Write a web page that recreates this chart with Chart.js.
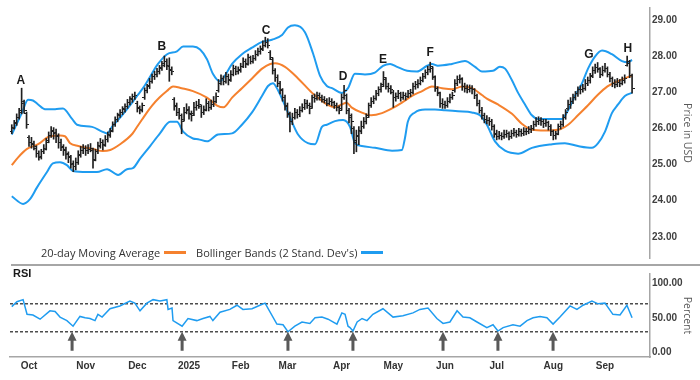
<!DOCTYPE html>
<html><head><meta charset="utf-8">
<script src="https://cdn.jsdelivr.net/npm/chart.js@4.4.1/dist/chart.umd.min.js"></script>
<style>
html,body{margin:0;padding:0;background:#fff;}
#wrap{position:relative;width:700px;height:380px;overflow:hidden;}
#cTop{position:absolute;left:0;top:0;}
#cBot{position:absolute;left:0;top:266px;}
#sep{position:absolute;left:11px;top:264px;width:689px;height:2px;background:#a6a6a6;}
#legend{position:absolute;left:41px;top:244px;height:16px;display:flex;align-items:center;font:11px 'Open Sans',sans-serif;color:#333;white-space:nowrap;}
#legend .ln{display:inline-block;width:22px;height:3px;margin:0 10px 0 4px;}
#rsi{position:absolute;left:13px;top:267px;font:bold 11px 'Liberation Sans',Arial,sans-serif;color:#1a1a1a;}
</style></head>
<body>
<div id="wrap">
<canvas id="cTop" width="700" height="266"></canvas>
<canvas id="cBot" width="700" height="114"></canvas>
<div id="sep"></div>
<div id="legend"></div>
<div id="rsi">RSI</div>
</div>
<script>
// ---- price bars (trading-day index = array position) ----
const open = [25.90,26.02,26.12,26.30,26.48,26.70,26.40,25.75,25.62,25.58,
25.45,25.30,25.20,25.35,25.45,25.65,25.80,25.95,25.85,25.78,
25.60,25.48,25.42,25.28,25.20,25.00,24.95,25.05,25.28,25.38,
25.45,25.38,25.42,25.40,25.15,25.35,25.52,25.62,25.55,25.70,
25.82,25.95,26.10,26.25,26.38,26.45,26.55,26.60,26.72,26.82,
26.88,26.70,26.55,26.52,26.85,27.05,27.18,27.30,27.42,27.50,
27.58,27.68,27.78,27.85,27.75,27.60,26.80,26.62,26.45,26.35,
26.25,26.45,26.50,26.40,26.40,26.58,26.62,26.60,26.45,26.52,
26.68,26.58,26.66,26.75,27.05,27.25,27.38,27.30,27.42,27.35,
27.50,27.65,27.58,27.62,27.72,27.85,27.80,27.95,27.85,27.92,
28.05,28.12,28.20,28.30,28.38,28.10,27.90,27.60,27.40,27.25,
27.05,26.85,26.60,26.38,26.20,26.30,26.45,26.38,26.50,26.58,
26.70,26.62,26.60,26.85,26.82,26.90,26.85,26.80,26.78,26.70,
26.75,26.72,26.62,26.58,26.55,26.85,26.90,26.50,26.30,26.00,
25.60,25.80,25.95,26.05,26.20,26.35,26.63,26.75,26.82,26.95,
27.06,27.20,27.35,27.16,27.10,27.00,26.85,26.88,26.95,26.85,
26.90,26.88,26.96,27.00,27.16,27.20,27.25,27.32,27.43,27.54,
27.62,27.65,27.40,27.10,26.95,26.70,26.65,26.63,26.75,26.85,
27.05,27.25,27.35,27.35,27.16,27.11,27.06,27.10,27.06,26.90,
26.70,26.50,26.35,26.25,26.22,26.20,26.04,25.85,25.78,25.80,
25.78,25.83,25.85,25.78,25.85,25.88,25.83,25.90,25.85,25.92,
25.90,25.96,26.00,26.10,26.18,26.22,26.20,26.12,26.15,26.04,
25.90,25.80,25.85,26.04,26.10,26.30,26.55,26.65,26.75,26.85,
26.95,27.06,27.08,27.11,27.25,27.32,27.45,27.60,27.68,27.62,
27.50,27.60,27.65,27.50,27.38,27.25,27.22,27.28,27.25,27.32,
27.75,27.80,27.45];
const high = [26.10,26.22,26.40,26.55,27.11,26.78,26.45,25.80,25.75,25.65,
25.52,25.38,25.42,25.55,25.72,25.90,26.05,26.02,25.98,25.85,
25.70,25.55,25.48,25.35,25.25,25.10,25.18,25.38,25.50,25.55,
25.52,25.55,25.58,25.45,25.42,25.62,25.72,25.68,25.80,25.90,
26.00,26.18,26.32,26.42,26.52,26.60,26.68,26.80,26.88,26.95,
27.00,26.75,26.62,26.70,27.12,27.22,27.38,27.50,27.58,27.66,
27.74,27.85,28.00,27.92,27.95,27.70,26.85,26.70,26.55,26.40,
26.58,26.68,26.60,26.48,26.72,26.75,26.80,26.65,26.62,26.82,
26.75,26.78,26.88,26.98,27.35,27.48,27.45,27.55,27.50,27.60,
27.75,27.72,27.70,27.80,27.95,27.92,28.05,28.00,28.02,28.15,
28.22,28.28,28.42,28.52,28.48,28.15,27.95,27.65,27.48,27.30,
27.10,26.92,26.70,26.45,26.42,26.55,26.52,26.60,26.68,26.80,
26.78,26.70,26.92,26.95,27.00,26.98,26.92,26.88,26.82,26.85,
26.82,26.75,26.70,26.62,26.95,27.19,26.95,26.55,26.40,26.05,
25.95,26.05,26.20,26.30,26.40,26.70,26.85,26.90,27.05,27.15,
27.25,27.57,27.40,27.25,27.18,27.05,26.98,27.05,27.00,27.00,
26.98,27.05,27.08,27.25,27.30,27.35,27.42,27.52,27.62,27.72,
27.83,27.70,27.45,27.15,27.00,26.82,26.75,26.85,26.95,27.00,
27.35,27.45,27.48,27.40,27.25,27.20,27.20,27.18,27.10,26.95,
26.78,26.58,26.42,26.35,26.30,26.25,26.10,25.95,25.92,25.88,
25.95,25.95,25.90,25.95,26.00,25.95,26.00,25.98,26.02,26.00,
26.05,26.08,26.20,26.30,26.32,26.30,26.25,26.25,26.20,26.10,
25.95,25.92,26.12,26.20,26.38,26.52,26.78,26.85,26.95,27.02,
27.15,27.18,27.22,27.35,27.42,27.52,27.70,27.78,27.82,27.68,
27.72,27.80,27.70,27.55,27.42,27.35,27.38,27.35,27.42,27.48,
28.00,27.88,27.50];
const low = [25.85,25.98,26.08,26.25,26.40,26.42,26.00,25.50,25.45,25.40,
25.20,25.12,25.15,25.30,25.40,25.60,25.75,25.70,25.60,25.45,
25.38,25.25,25.15,25.05,24.90,24.80,24.85,25.00,25.20,25.30,
25.25,25.30,25.35,24.90,25.10,25.30,25.45,25.40,25.50,25.62,
25.75,25.90,26.05,26.18,26.30,26.38,26.45,26.55,26.65,26.72,
26.80,26.45,26.40,26.45,26.80,26.98,27.10,27.25,27.35,27.42,
27.50,27.60,27.70,27.62,27.30,27.48,26.50,26.35,26.25,25.85,
26.20,26.40,26.25,26.20,26.35,26.50,26.55,26.30,26.38,26.48,
26.48,26.52,26.60,26.70,27.00,27.20,27.20,27.25,27.20,27.30,
27.45,27.48,27.50,27.55,27.68,27.68,27.75,27.78,27.80,27.88,
28.00,28.05,28.15,28.25,28.22,27.90,27.50,27.30,27.15,26.95,
26.75,26.50,26.30,25.90,26.10,26.25,26.28,26.32,26.45,26.52,
26.55,26.40,26.55,26.72,26.78,26.78,26.72,26.70,26.62,26.65,
26.62,26.55,26.48,26.40,26.50,26.80,26.40,26.15,25.85,25.30,
25.35,25.55,25.85,26.00,26.12,26.30,26.58,26.68,26.78,26.90,
27.00,27.15,27.08,27.00,26.95,26.58,26.75,26.82,26.75,26.80,
26.78,26.85,26.88,26.95,27.08,27.12,27.20,27.28,27.38,27.48,
27.55,27.35,27.02,26.90,26.58,26.55,26.55,26.58,26.70,26.80,
27.00,27.18,27.25,27.05,27.00,26.98,27.00,26.95,26.82,26.62,
26.42,26.25,26.15,26.12,26.08,25.95,25.75,25.68,25.70,25.68,
25.72,25.75,25.68,25.72,25.78,25.75,25.78,25.78,25.80,25.82,
25.85,25.88,25.95,26.05,26.10,26.08,26.02,26.05,25.95,25.80,
25.68,25.70,25.82,25.98,26.05,26.25,26.50,26.55,26.68,26.78,
26.88,26.95,27.00,27.05,27.18,27.25,27.40,27.52,27.55,27.40,
27.45,27.55,27.42,27.28,27.15,27.12,27.15,27.15,27.20,27.25,
27.72,27.40,26.97];
const close = [26.00,26.15,26.30,26.45,26.75,26.50,26.10,25.60,25.55,25.50,
25.30,25.22,25.35,25.42,25.62,25.80,25.92,25.88,25.80,25.62,
25.50,25.40,25.30,25.22,25.02,24.95,25.05,25.25,25.40,25.45,
25.38,25.42,25.45,25.10,25.35,25.50,25.60,25.52,25.70,25.80,
25.92,26.10,26.25,26.35,26.45,26.52,26.60,26.72,26.80,26.88,
26.92,26.58,26.50,26.62,27.05,27.15,27.30,27.42,27.50,27.58,
27.65,27.75,27.85,27.72,27.62,27.58,26.60,26.45,26.35,26.20,
26.45,26.52,26.38,26.35,26.58,26.62,26.65,26.45,26.50,26.70,
26.58,26.66,26.75,26.88,27.25,27.38,27.30,27.43,27.32,27.50,
27.65,27.58,27.60,27.70,27.86,27.77,27.96,27.85,27.92,28.05,
28.12,28.18,28.30,28.38,28.30,27.96,27.60,27.40,27.25,27.06,
26.85,26.63,26.40,26.20,26.30,26.45,26.38,26.50,26.58,26.70,
26.63,26.55,26.85,26.82,26.90,26.85,26.80,26.78,26.70,26.75,
26.72,26.63,26.58,26.50,26.85,27.05,26.50,26.35,26.20,25.65,
25.78,25.90,26.05,26.20,26.30,26.63,26.75,26.82,26.95,27.06,
27.16,27.40,27.16,27.10,27.06,26.85,26.88,26.95,26.85,26.90,
26.88,26.96,26.98,27.16,27.20,27.25,27.32,27.43,27.54,27.62,
27.70,27.43,27.11,26.98,26.70,26.65,26.63,26.75,26.85,26.90,
27.25,27.35,27.38,27.16,27.11,27.06,27.10,27.06,26.90,26.70,
26.50,26.35,26.25,26.22,26.20,26.04,25.83,25.78,25.80,25.78,
25.83,25.85,25.78,25.85,25.88,25.83,25.90,25.85,25.92,25.90,
25.96,25.99,26.10,26.18,26.22,26.20,26.12,26.15,26.04,25.90,
25.80,25.83,26.04,26.10,26.30,26.45,26.65,26.75,26.85,26.95,
27.06,27.08,27.11,27.25,27.32,27.43,27.60,27.68,27.65,27.50,
27.60,27.65,27.50,27.38,27.25,27.22,27.28,27.25,27.32,27.38,
27.85,27.45,27.10];

// ---- 20-day moving average (day index, value) ----
const maIdx = [0,2.5,6.2,10.7,15.5,19.6,21.6,23.7,27,33,37,40,44,49,51,53,55,57,60,63,65.5,69,73.6,79.3,83.4,86,89.5,93.5,97.6,101.7,105,107,111,116.3,122,126,128,131.3,134,136,138,142,146,150.4,154.5,158.5,162.6,166.7,170.7,174.8,178.8,183,187,191,193,197.5,203.2,207.3,211.3,216.6,221.9,226,230,234,238,242,246,252];
const maVal = [24.98,25.19,25.43,25.56,25.78,25.80,25.78,25.59,25.51,25.43,25.37,25.40,25.56,25.85,26.05,26.25,26.45,26.63,26.85,27.03,27.16,27.11,27.03,26.85,26.63,26.58,26.85,27.11,27.38,27.65,27.78,27.80,27.70,27.38,26.98,26.76,26.66,26.58,26.66,26.71,26.58,26.44,26.36,26.42,26.55,26.71,26.90,27.03,27.16,27.11,27.08,27.16,27.11,26.92,26.82,26.66,26.40,26.12,25.96,25.94,25.96,26.10,26.36,26.63,26.92,27.16,27.30,27.46];

// ---- Bollinger bands ----
const upIdx = [0,4.2,6.6,8.6,10.7,13.5,17.6,20.8,24.5,26.5,32.6,36.7,38.7,40.7,44.8,48.9,51.3,54.1,56.9,59.4,63.1,67.1,69.6,73.6,76.5,79.3,81.7,84.6,86.6,89.5,93.5,97.6,101.7,105.7,109.8,112.2,115,119.1,122.4,125.2,128,130.1,134.1,136.6,139.4,143.5,147.5,150.8,153.7,156.5,160.6,164.6,168.7,170.7,173.1,178.8,184.1,188.2,191,195.5,198.3,200.4,203.2,205.7,208.5,211.3,213.8,219.5,223.5,226,228.8,231.7,234.1,237,239.8,243.8,247.9,250.3,252];
const upVal = [25.83,26.44,26.79,26.77,26.66,26.53,26.53,26.55,26.26,26.10,26.04,25.91,25.86,26.04,26.36,26.71,26.93,27.19,27.51,27.78,28.05,28.13,28.26,28.26,28.18,27.91,27.51,27.30,27.46,27.78,28.05,28.23,28.39,28.45,28.58,28.79,28.85,28.66,28.07,27.46,27.17,27.11,26.98,27.11,27.51,27.49,27.54,27.73,27.78,27.70,27.59,27.57,27.73,27.78,27.73,27.78,27.86,27.70,27.57,27.59,27.70,27.65,27.33,26.98,26.66,26.36,26.26,26.26,26.26,26.50,26.90,27.25,27.65,27.99,28.15,28.05,27.86,27.83,27.89];
const loIdx = [0,4.6,7.4,10.2,14.3,16.7,19.6,22.4,24.9,30.6,34.6,38.7,43.2,46.8,49.2,52.1,56.2,60.2,64.3,67.1,69.6,73.6,75.7,79.3,83.8,89.5,93.5,97.6,101.7,104.1,106.1,108.1,111,113.8,116.3,120.3,123.2,126,128,131.3,134.6,137.4,139.4,142.2,147.6,154.5,158.5,159.7,160.9,163.8,167.9,171.9,176,181.3,186.9,190.2,193,196.3,200.4,205.7,211.3,219.5,224.7,230,235.7,238.2,241,243.8,246.3,249.2,252];
const loVal = [24.12,23.91,24.04,24.36,24.79,25.03,25.06,24.98,24.82,24.79,24.79,24.87,24.71,24.87,24.90,25.16,25.51,25.86,26.18,26.18,25.91,25.72,25.70,25.64,25.83,25.86,26.10,26.44,26.90,27.17,27.25,27.06,26.63,26.18,25.83,25.59,25.56,26.04,26.10,26.20,26.23,26.04,25.59,25.51,25.46,25.38,25.40,25.72,26.18,26.44,26.52,26.52,26.50,26.47,26.44,26.36,26.10,25.64,25.38,25.30,25.46,25.56,25.59,25.51,25.46,25.59,25.91,26.42,26.66,26.90,26.98];

// ---- RSI ----
const rsiIdx = [0,2.1,4.6,6.2,8.6,11.5,15.5,17.6,19.6,22.4,24.9,27.7,29.8,31.8,33.8,35,36.7,39.9,43.9,48,50,52.1,54.9,57.4,60.2,63,63.5,65.1,65.5,69.2,71.6,75.2,77.7,80.5,81.7,84.6,88.6,91.5,93.9,97.6,100.8,102.9,107.7,110.2,112.2,115,117.9,121.1,123.2,126,128.5,132.1,134.1,135.4,136.6,137.4,138.6,140.3,142.3,144.3,146.7,150.8,154.9,158.9,163,165.8,169.1,172.7,175.2,178,180.9,183.3,186.1,189,193,195.5,197.5,199.6,203.6,206.5,209.3,211.8,214.6,217.4,219.9,222.7,226.8,229.6,232.1,235.7,238.2,241,244.2,247.1,249.9,252];
const rsiVal = [66,73,76,55,54,48,60,59,51,46,38,52,50,49,46,55,51,63,67,74,71,60,71,76,74,76,62,64,46,38,49,46,49,52,46,58,62,68,62,63,68,71,41,40,30,38,44,42,50,51,48,41,57,55,38,36,31,44,49,46,55,63,51,53,57,62,64,49,42,44,60,51,50,44,36,40,31,36,40,38,46,50,52,50,41,51,67,62,68,74,70,71,55,54,68,50];
const rsiLevels = [70, 30];
const arrowIdx = [24.5, 69.2, 112.2, 138.6, 175.2, 197.5, 219.9];

// ---- annotations & axes ----
const markLabels = ['A','B','C','D','E','F','G','H'];
const markIdx = [3.7, 61, 103.3, 134.6, 150.8, 170, 234.5, 250.3];
const markPrice = [27.32, 28.26, 28.71, 27.43, 27.91, 28.10, 28.05, 28.21];
const monthIdx = [7,30,51,72,93,112,134,155,176,197,220,241];
const monthLabels = ['Oct','Nov','Dec','2025','Feb','Mar','Apr','May','Jun','Jul','Aug','Sep'];
const priceTicks = [23,24,25,26,27,28,29];
const rsiTicks = [0,50,100];

const ORANGE = '#f5812e', BLUE = '#1f9cf0', BAR = '#1f1f1f', AXIS = '#a6a6a6';
const X_MIN = -0.72, X_MAX = 259.28;
const tickFont = {family:"'Liberation Sans', Arial, sans-serif", weight:'bold', size:10};
const titleFont = {family:"'Open Sans', sans-serif", size:10.5};

function tickImg(side){
  const c = document.createElement('canvas'); c.width = 5; c.height = 1;
  const g = c.getContext('2d'); g.fillStyle = BAR; g.fillRect(side < 0 ? 0 : 3, 0, 2, 1);
  return c;
}
const pts = (ix, vals) => ix.map((x,i)=>({x, y: vals[i]}));

const markerPlugin = {
  id:'markers',
  afterDatasetsDraw(chart){
    const {ctx, scales:{x, y}} = chart;
    ctx.save();
    ctx.font = "bold 12px 'Liberation Sans', Arial, sans-serif";
    ctx.fillStyle = '#1a1a1a'; ctx.textAlign = 'center'; ctx.textBaseline = 'middle';
    markLabels.forEach((t,i)=>ctx.fillText(t, x.getPixelForValue(markIdx[i]), y.getPixelForValue(markPrice[i])));
    ctx.restore();
  }
};

new Chart(document.getElementById('cTop'), {
  type:'bar',
  data:{datasets:[
    {type:'line', label:'20-day Moving Average', data:pts(maIdx, maVal), borderColor:ORANGE, borderWidth:2, pointRadius:0, cubicInterpolationMode:'monotone', order:3},
    {type:'line', label:'Bollinger Bands (2 Stand. Dev\'s)', data:pts(upIdx, upVal), borderColor:BLUE, borderWidth:2, pointRadius:0, cubicInterpolationMode:'monotone', order:3},
    {type:'line', label:'lower', data:pts(loIdx, loVal), borderColor:BLUE, borderWidth:2, pointRadius:0, cubicInterpolationMode:'monotone', order:3},
    {type:'bar', label:'range', data:high.map((h,i)=>({x:i, y:[low[i], h]})), backgroundColor:BAR, barThickness:1, grouped:false, order:1},
    {type:'scatter', label:'open', data:open.map((o,i)=>({x:i, y:o})), pointStyle:tickImg(-1), order:0},
    {type:'scatter', label:'close', data:close.map((c,i)=>({x:i, y:c})), pointStyle:tickImg(1), order:0}
  ]},
  options:{
    responsive:false, devicePixelRatio:1, animation:false, events:[],
    layout:{padding:{left:10, top:7, right:0, bottom:0}},
    plugins:{legend:{display:false}, tooltip:{enabled:false}},
    scales:{
      x:{type:'linear', display:false, min:X_MIN, max:X_MAX, offset:false, grid:{offset:false}},
      y:{position:'right', min:22.413, max:29.328,
        afterBuildTicks:s=>{s.ticks = priceTicks.map(v=>({value:v}));},
        afterFit:s=>{s.width = 50;},
        grid:{display:false, drawTicks:false},
        border:{display:true, color:AXIS, width:1.5},
        ticks:{padding:2, font:tickFont, color:'#404040', callback:v=>Number(v).toFixed(2)},
        title:{display:true, text:'Price in USD', font:titleFont, color:'#595959', padding:{top:7, bottom:0}}
      }
    }
  },
  plugins:[markerPlugin]
});

const rsiPlugin = {
  id:'rsiExtras',
  beforeDatasetsDraw(chart){
    const {ctx, chartArea:a, scales:{y}} = chart;
    ctx.save(); ctx.strokeStyle = '#4d4d4d'; ctx.lineWidth = 1.5; ctx.setLineDash([3,2]);
    rsiLevels.forEach(v=>{ const py = y.getPixelForValue(v); ctx.beginPath(); ctx.moveTo(a.left, py); ctx.lineTo(a.right, py); ctx.stroke(); });
    ctx.restore();
  },
  afterDatasetsDraw(chart){
    const {ctx, scales:{x, y}} = chart;
    ctx.save(); ctx.fillStyle = '#595959';
    arrowIdx.forEach(k=>{
      const px = x.getPixelForValue(k), tip = y.getPixelForValue(30), base = y.getPixelForValue(3);
      ctx.beginPath();
      ctx.moveTo(px, tip); ctx.lineTo(px + 4.5, tip + 9); ctx.lineTo(px + 1.5, tip + 9);
      ctx.lineTo(px + 1.5, base); ctx.lineTo(px - 1.5, base); ctx.lineTo(px - 1.5, tip + 9);
      ctx.lineTo(px - 4.5, tip + 9); ctx.closePath(); ctx.fill();
    });
    ctx.restore();
  }
};

new Chart(document.getElementById('cBot'), {
  type:'line',
  data:{datasets:[{label:'RSI', data:pts(rsiIdx, rsiVal), borderColor:BLUE, borderWidth:1.5, pointRadius:0, tension:0}]},
  options:{
    responsive:false, devicePixelRatio:1, animation:false, events:[],
    layout:{padding:{left:10, top:0, right:0, bottom:0}},
    plugins:{legend:{display:false}, tooltip:{enabled:false}},
    scales:{
      x:{type:'linear', min:X_MIN, max:X_MAX,
        afterBuildTicks:s=>{s.ticks = monthIdx.map(v=>({value:v}));},
        afterFit:s=>{s.height = 23;},
        grid:{display:false, drawTicks:false},
        border:{display:true, color:AXIS, width:1.5},
        ticks:{autoSkip:false, maxRotation:0, padding:3, font:tickFont, color:'#333', callback:(v,i)=>monthLabels[i]}
      },
      y:{position:'right', min:-6.1, max:112.7,
        afterBuildTicks:s=>{s.ticks = rsiTicks.map(v=>({value:v}));},
        afterFit:s=>{s.width = 50;},
        grid:{display:false, drawTicks:false},
        border:{display:true, color:AXIS, width:1.5},
        ticks:{padding:2, font:tickFont, color:'#404040', callback:v=>Number(v).toFixed(2)},
        title:{display:true, text:'Percent', font:titleFont, color:'#595959', padding:{top:7, bottom:0}}
      }
    }
  },
  plugins:[rsiPlugin]
});

// legend built from the dataset labels and colours
const lg = document.getElementById('legend');
[['20-day Moving Average', ORANGE], ['Bollinger Bands (2 Stand. Dev\'s)', BLUE]].forEach(([t,c])=>{
  const s = document.createElement('span'); s.textContent = t; lg.appendChild(s);
  const l = document.createElement('span'); l.className = 'ln'; l.style.background = c; lg.appendChild(l);
});
</script>
</body></html>
